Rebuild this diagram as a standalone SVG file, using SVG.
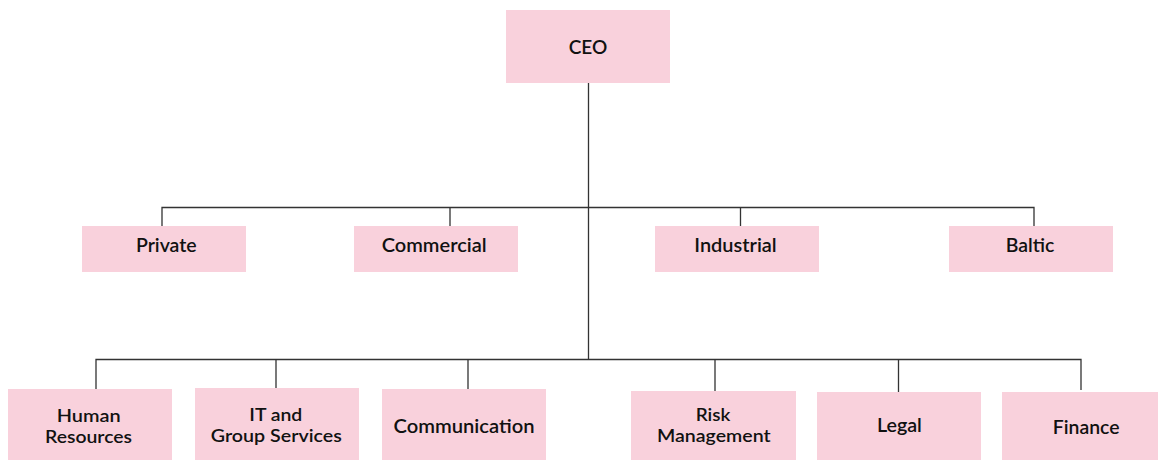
<svg xmlns="http://www.w3.org/2000/svg" width="1158" height="460" viewBox="0 0 1158 460">
<style>
.box{fill:#F9D1DC}
.lbl{font-family:Lato,"Open Sans","Liberation Sans",sans-serif;font-size:18.4px;font-weight:600;fill:#111;text-anchor:middle}
.two{font-size:17.3px}
.ln{stroke:#333;stroke-width:1.3;fill:none}
</style>
<rect width="1158" height="460" fill="#fff"/>
<g id="connectors">
<path class="ln" d="M588.5 83 V359.5"/>
<path class="ln" d="M162 226 V207.5 H1034 V226"/>
<path class="ln" d="M450 207.5 V226 M740.5 207.5 V226"/>
<path class="ln" d="M96 389 V359.5 H1081 V390"/>
<path class="ln" d="M276 359.5 V388 M468 359.5 V389 M715 359.5 V391 M898.5 359.5 V392"/>
</g>
<g id="ceo"><rect class="box" x="506" y="10" width="164" height="73"/><text class="lbl" x="588" y="54" textLength="38.6" lengthAdjust="spacingAndGlyphs">CEO</text></g>
<g id="private"><rect class="box" x="82" y="226" width="164" height="46"/><text class="lbl" x="166.3" y="252" textLength="60.7" lengthAdjust="spacingAndGlyphs">Private</text></g>
<g id="commercial"><rect class="box" x="354" y="226" width="164" height="46"/><text class="lbl" x="434.2" y="252" textLength="105" lengthAdjust="spacingAndGlyphs">Commercial</text></g>
<g id="industrial"><rect class="box" x="655" y="226" width="164" height="46"/><text class="lbl" x="735.5" y="252" textLength="82.4" lengthAdjust="spacingAndGlyphs">Industrial</text></g>
<g id="baltic"><rect class="box" x="949" y="226" width="164" height="46"/><text class="lbl" x="1030" y="252" textLength="48.6" lengthAdjust="spacingAndGlyphs">Baltic</text></g>
<g id="hr"><rect class="box" x="8" y="389" width="164" height="71"/><text class="lbl two" x="88.7" y="422" textLength="64" lengthAdjust="spacingAndGlyphs">Human</text><text class="lbl two" x="88.5" y="443" textLength="87" lengthAdjust="spacingAndGlyphs">Resources</text></g>
<g id="it"><rect class="box" x="195" y="388" width="164" height="72"/><text class="lbl two" x="275.8" y="421" textLength="53" lengthAdjust="spacingAndGlyphs">IT and</text><text class="lbl two" x="276.3" y="442" textLength="131" lengthAdjust="spacingAndGlyphs">Group Services</text></g>
<g id="communication"><rect class="box" x="382" y="389" width="164" height="71"/><text class="lbl" x="464" y="433" textLength="141" lengthAdjust="spacingAndGlyphs">Communication</text></g>
<g id="risk"><rect class="box" x="631" y="391" width="165" height="69"/><text class="lbl two" x="713" y="421" textLength="34.7" lengthAdjust="spacingAndGlyphs">Risk</text><text class="lbl two" x="713.8" y="442" textLength="113.6" lengthAdjust="spacingAndGlyphs">Management</text></g>
<g id="legal"><rect class="box" x="817" y="392" width="164" height="68"/><text class="lbl" x="899.4" y="432" textLength="45" lengthAdjust="spacingAndGlyphs">Legal</text></g>
<g id="finance"><rect class="box" x="1002" y="392" width="156" height="68"/><text class="lbl" x="1086.2" y="434" textLength="66.7" lengthAdjust="spacingAndGlyphs">Finance</text></g>
</svg>
